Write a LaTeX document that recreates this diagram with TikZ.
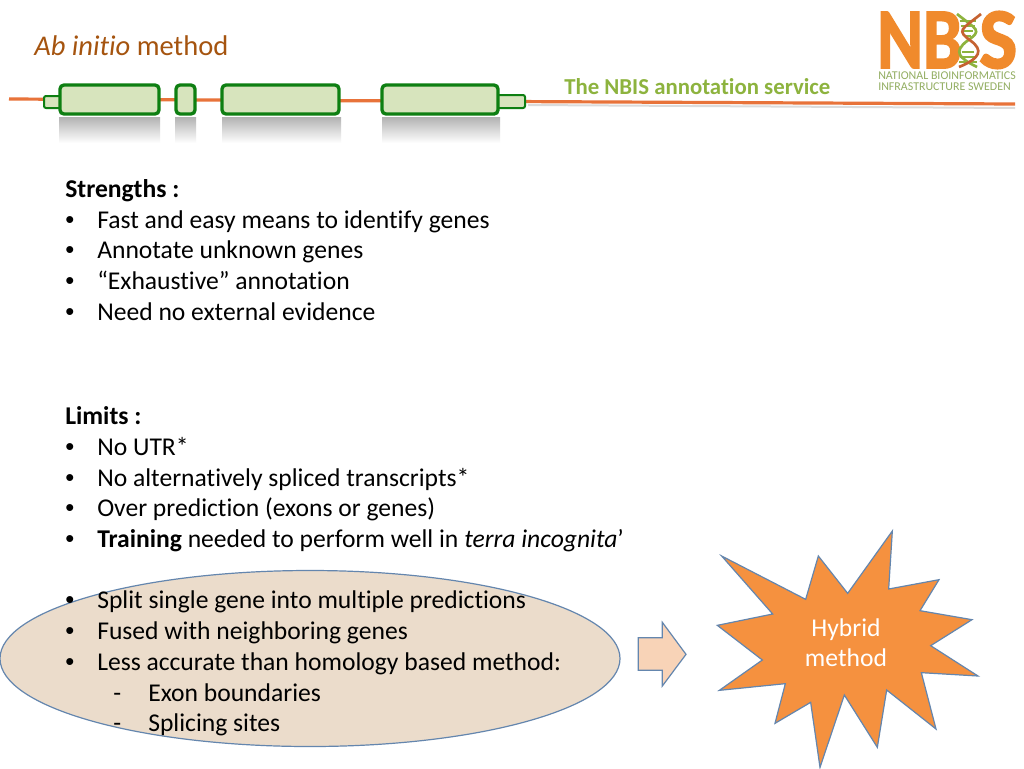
\documentclass[tikz,border=0pt]{standalone}
\usepackage{fontspec}
\setmainfont[Ligatures=NoCommon]{Carlito}
\newfontfamily\logofont[FakeBold=2.2]{Carlito}
\newfontfamily\bulletfont{Liberation Sans}
\definecolor{nbisorange}{HTML}{F08A2C}
\definecolor{linered}{HTML}{E8733A}
\definecolor{titlebrown}{HTML}{A5540F}
\definecolor{servicegreen}{HTML}{8DB33E}
\definecolor{genefill}{HTML}{D7E4BD}
\definecolor{geneedge}{HTML}{0E7F12}
\definecolor{shapeedge}{HTML}{6486AE}
\definecolor{ellfill}{HTML}{EBDCCB}
\definecolor{arrfill}{HTML}{F8D3B7}
\definecolor{starfill}{HTML}{F5913F}
\definecolor{logotext}{HTML}{93AE62}
\tikzset{
  px/.style={x=0.75pt,y=-0.75pt},
  body/.style={anchor=base west,inner sep=0pt,font=\fontsize{19.2pt}{23pt}\selectfont,text=black},
  exon/.style={draw=geneedge,line width=2.5pt,fill=genefill,rounded corners=3pt},
  utr/.style={draw=geneedge,line width=1.5pt,fill=genefill,rounded corners=1.5pt},
  mirror/.style={top color=black!30,bottom color=white,draw=none},
  logobig/.style={anchor=base west,inner sep=0pt,text=nbisorange,font=\fontsize{51pt}{51pt}\logofont\bfseries},
  logosmall/.style={anchor=base west,inner sep=0pt,text=logotext,align=left,font=\fontsize{8.95pt}{8.25pt}\selectfont},
}
\begin{document}
\begin{tikzpicture}[px]
\useasboundingbox (0,0) rectangle (1024,768);
\fill[white] (0,0) rectangle (1024,768);
% title
\node[anchor=base west,inner sep=0pt,text=titlebrown,font=\fontsize{21.4pt}{24pt}\selectfont] (title) at (34,55) {\textit{Ab initio} method};
\node[anchor=base west,inner sep=0pt,text=servicegreen,font=\fontsize{17.1pt}{20pt}\selectfont\bfseries] (service) at (564,94) {The NBIS annotation service};
% reflections
\foreach \a/\b in {59/160,175/196,222/341,382/500}{
  \fill[mirror] (\a,117) rectangle (\b,143);
}
% backbone
\fill[black!14] (528,104) -- (1015,107) -- (1015,109) -- (528,106) -- cycle;
\coordinate (lineA) at (9,99);
\coordinate (lineB) at (1015,104);
\draw[linered,line width=2.4pt] (lineA) -- (lineB);
% gene
\draw[utr] (44,96) rectangle (62,108);
\draw[utr] (497,95) rectangle (525,108);
\draw[exon] (60,85) rectangle (159,114);
\draw[exon] (176,85) rectangle (195,114);
\draw[exon] (222,85) rectangle (339,114);
\draw[exon] (382,85) rectangle (498,114);
% logo
\node[logobig] (logoNB) at (877,68) {\scalebox{1.02}[1.27]{NB}};
\node[logobig] (logoS) at (979,68) {\scalebox{1.18}[1.27]{S}};
\begin{scope}[line width=1.6pt]
  \foreach \y in {21,26,31,36,52,57,62}{
    \pgfmathsetmacro{\w}{8*abs(cos((\y-15)*3.6))+1}
    \draw[servicegreen] (968-\w,\y) -- (968+\w,\y);
  }
  \draw[servicegreen,line width=2pt] (957,14) .. controls (977,30) and (983,30) .. (967,41) .. controls (953,52) and (959,58) .. (977,67);
  \draw[linered!85!black,line width=2pt] (981,14) .. controls (961,30) and (956,30) .. (971,41) .. controls (983,50) and (981,58) .. (959,67);
\end{scope}
\node[logosmall,anchor=north west] (logoA) at (878,71) {NATIONAL BIOINFORMATICS\\INFRASTRUCTURE SWEDEN};
% ellipse
\draw[draw=shapeedge,line width=0.9pt,fill=ellfill] (310,658.5) ellipse [x radius=310,y radius=88];
% text
\node[body,font=\fontsize{19.2pt}{23pt}\selectfont\bfseries] (s0) at (65,197) {Strengths :};
\foreach \n/\y/\t in {s1/228/{Fast and easy means to identify genes},s2/258.5/{Annotate unknown genes},s3/289/{“Exhaustive” annotation},s4/320/{Need no external evidence},
 l1/455/{No UTR*},l2/486/{No alternatively spliced transcripts*},l3/516.5/{Over prediction (exons or genes)},l4/547.5/{\textbf{Training} needed to perform well in \textit{terra incognita}’},
 m1/608.5/{Split single gene into multiple predictions},m2/639.5/{Fused with neighboring genes},m3/670/{Less accurate than homology based method:}}{
  \node[body] (\n b) at (65,\y) {\bulletfont •};
  \node[body] (\n) at (97,\y) {\t};
}
\node[body,font=\fontsize{19.2pt}{23pt}\selectfont\bfseries] (l0) at (65,424) {Limits :};
\node[body] (d1b) at (113,701) {-};
\node[body] (d1) at (148,701) {Exon boundaries};
\node[body] (d2b) at (113,731.5) {-};
\node[body] (d2) at (148,731.5) {Splicing sites};
% arrow and star
\begin{scope}[shift={(620,520)},x=0.25pt,y=-0.25pt]
\draw[draw=shapeedge,line width=0.9pt,fill=arrfill,line join=miter] (55,353) -- (127,353) -- (127,307) -- (198,403) -- (127,498) -- (127,451) -- (55,451) -- cycle;
\draw[draw=shapeedge,line width=0.9pt,fill=starfill,line join=miter] (305,108) -- (557,238) -- (595,108) -- (683,220) -- (817,33) -- (806,207) -- (957,179) -- (900,272) -- (1056,299) -- (932,377) -- (1074,468) -- (904,458) -- (948,627) -- (800,510) -- (772,682) -- (673,525) -- (600,742) -- (572,547) -- (465,610) -- (496,491) -- (298,511) -- (427,420) -- (292,316) -- (458,282) -- cycle;
\end{scope}
\node[anchor=base,inner sep=0pt,text=white,font=\fontsize{19.2pt}{23pt}\selectfont] (h1) at (846,636) {Hybrid};
\node[anchor=base,inner sep=0pt,text=white,font=\fontsize{19.2pt}{23pt}\selectfont] (h2) at (846,666) {method};
\end{tikzpicture}
\end{document}
